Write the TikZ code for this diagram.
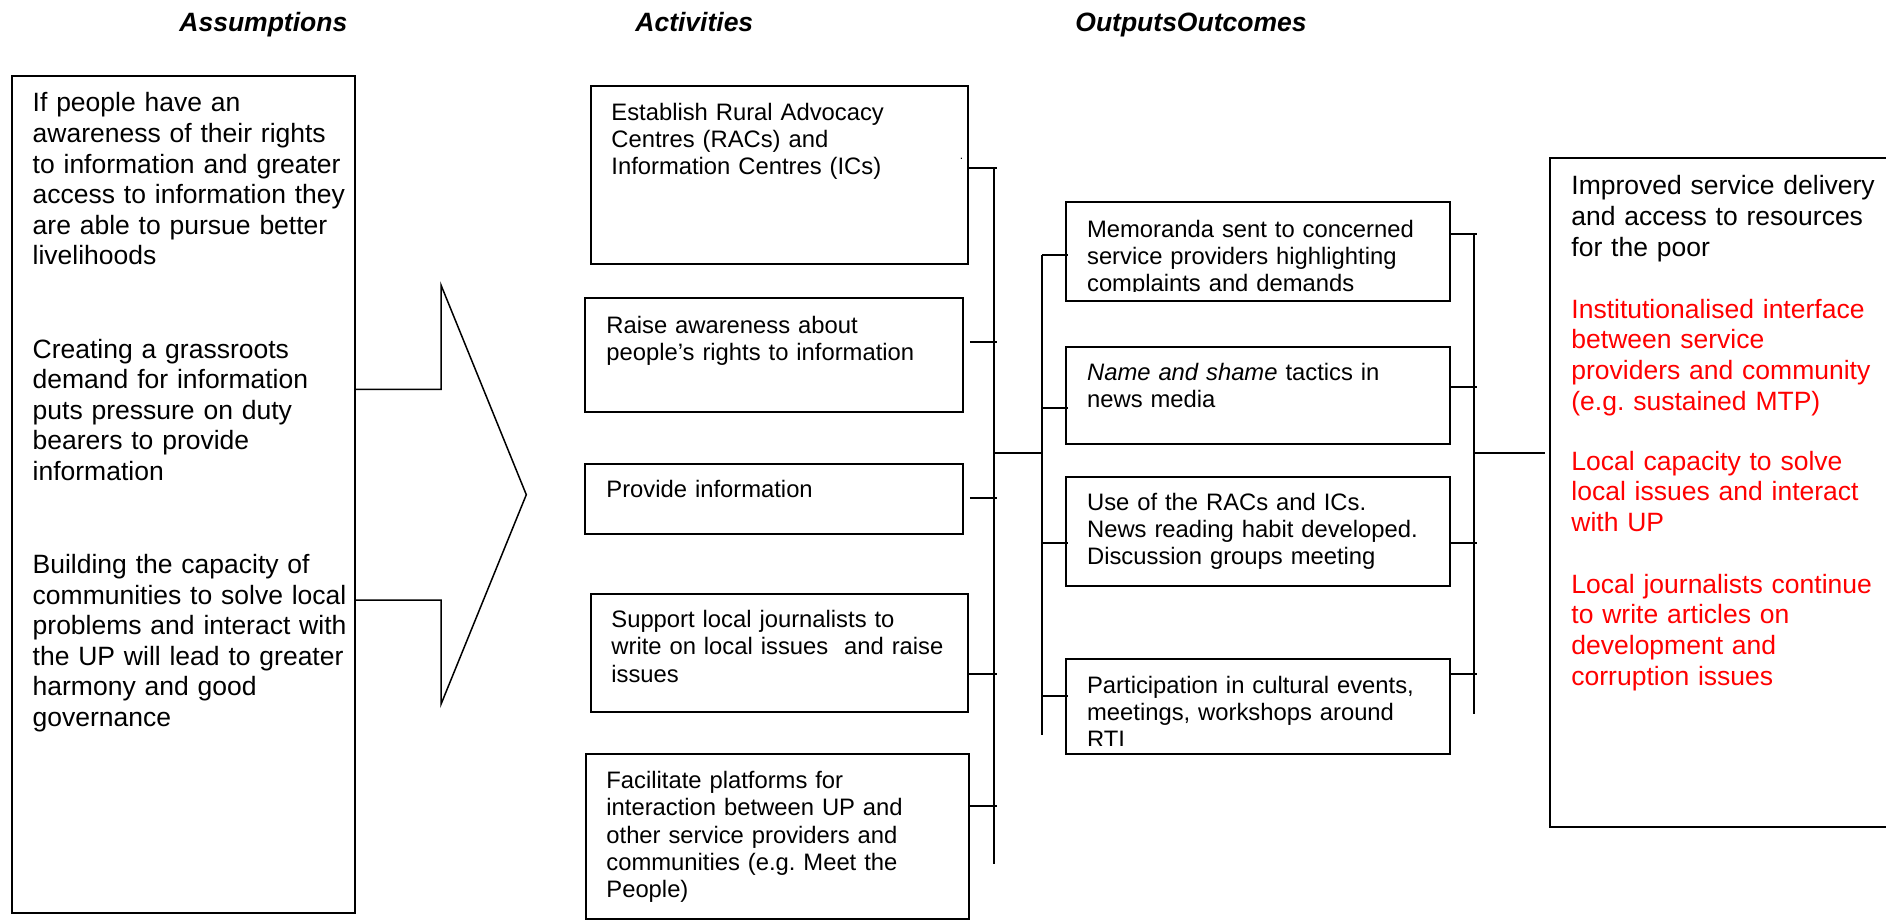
\documentclass[tikz,border=0pt]{standalone}
\usepackage{fontspec}
\setmainfont{Liberation Sans}
\usetikzlibrary{fit}
\definecolor{outred}{RGB}{255,0,0}
\frenchspacing
\tikzset{
  frame/.style={draw=black, line width=1pt, inner sep=0pt},
  link/.style={draw=black, line width=0.9pt},
  chevron/.style={draw=black, line width=0.75pt, line join=miter},
  heading/.style={inner sep=0pt, anchor=base west,
    font=\fontsize{13.25pt}{15.3pt}\selectfont\bfseries\itshape},
  bigtxt/.style={inner sep=0pt, anchor=base west, align=left, text width=168pt,
    font=\fontsize{13.25pt}{15.3pt}\selectfont},
  midtxt/.style={inner sep=0pt, anchor=base west, align=left, text width=185pt,
    font=\fontsize{11.9pt}{13.6pt}\selectfont},
  rtxt/.style={inner sep=0pt, anchor=base west, align=left, text width=155pt,
    font=\fontsize{13.25pt}{15.4pt}\selectfont},
}
\begin{document}
\begin{tikzpicture}[x=0.5pt, y=-0.5pt]
\path[use as bounding box] (0,0) rectangle (1886,920);
\clip (0,0) rectangle (1886,920);

% column headings
\node[heading] (tAsm) at (179,31.7) {Assumptions};
\node[heading] (tAct) at (635,31.7) {Activities};
\node[heading] (tOut) at (1075,31.7) {OutputsOutcomes};

% ---------------- assumptions ----------------
\node[frame, fit={(11.7,76) (355,913.3)}] (asm) {};
\node[bigtxt] (asmA) at (32.3,112) {If people have an\\awareness of their rights\\to information and greater\\access to information they\\are able to pursue better\\livelihoods};
\node[bigtxt] (asmB) at (32.3,358) {Creating a grassroots\\demand for information\\puts pressure on duty\\bearers to provide\\information};
\node[bigtxt] (asmC) at (32.3,573.5) {Building the capacity of\\communities to solve local\\problems and interact with\\the UP will lead to greater\\harmony and good\\governance};

% chevron pointing at the activities
\coordinate (chUp)   at (441,389.3);
\coordinate (chUpT)  at (441,285);
\coordinate (chTip)  at (526.3,494.7);
\coordinate (chLoB)  at (441,704.3);
\coordinate (chLo)   at (441,600);
\draw[chevron] (asm.east |- chUp) -- (chUp) -- (chUpT) -- (chTip)
  -- (chLoB) -- (chLo) -- (asm.east |- chLo);

% ---------------- activities ----------------
\node[frame, fit={(590.7,85.7) (968.3,264)}]   (act1) {};
\node[frame, fit={(585,298.3) (963.3,411.7)}]  (act2) {};
\node[frame, fit={(585,464.3) (963.3,534)}]    (act3) {};
\node[frame, fit={(590.7,594.3) (968.3,711.7)}] (act4) {};
\node[frame, fit={(585.7,754.3) (969.3,918.5)}] (act5) {};

\node[midtxt] (act1t) at (611,120.3) {Establish Rural Advocacy\\Centres (RACs) and\\Information Centres (ICs)};
\node[inner sep=0pt, anchor=base east, font=\fontsize{6pt}{7pt}\selectfont] (act1dot) at (963.5,160) {.};
\node[midtxt] (act2t) at (606,333) {Raise awareness about\\people’s rights to information};
\node[midtxt] (act3t) at (606,497.7) {Provide information};
\node[midtxt] (act4t) at (611,627.7) {Support local journalists to\\write on local issues \ and raise\\issues};
\node[midtxt] (act5t) at (606,788.7) {Facilitate platforms for\\interaction between UP and\\other service providers and\\communities (e.g. Meet the\\People)};

% bracket joining the activities
\coordinate (s1top) at (994,168);
\coordinate (s1bot) at (994,864);
\coordinate (k1) at (997,168);
\coordinate (k2) at (997,342);
\coordinate (k3) at (997,498);
\coordinate (k4) at (997,674);
\coordinate (k5) at (997,806);
\draw[link] (s1top) -- (s1bot);
\draw[link] (act1.east |- k1) -- (k1);
\draw[link] ([xshift=2.8pt]act2.east |- k2) -- (k2);
\draw[link] ([xshift=2.8pt]act3.east |- k3) -- (k3);
\draw[link] (act4.east |- k4) -- (k4);
\draw[link] (act5.east |- k5) -- (k5);

% ---------------- outputs ----------------
\node[frame, fit={(1065.7,202.3) (1450,300.7)}] (out1) {};
\node[frame, fit={(1065.7,346.7) (1450,444)}]   (out2) {};
\node[frame, fit={(1065.7,477) (1450,586)}]     (out3) {};
\node[frame, fit={(1065.7,659) (1450,754.3)}]   (out4) {};

\begin{scope}
  \clip (1066,203) rectangle (1449,291.5);
  \node[midtxt] (out1t) at (1086.7,237) {Memoranda sent to concerned\\service providers highlighting\\complaints and demands};
\end{scope}
\node[midtxt] (out2t) at (1086.7,380.3) {\textit{Name and shame} tactics in\\news media};
\node[midtxt] (out3t) at (1086.7,510.3) {Use of the RACs and ICs.\\News reading habit developed.\\Discussion groups meeting};
\begin{scope}
  \clip (1066,660) rectangle (1449,745);
  \node[midtxt] (out4t) at (1086.7,693) {Participation in cultural events,\\meetings, workshops around\\RTI};
\end{scope}

% junction from the activities bracket to the outputs bracket
\coordinate (j1a) at (994,453);
\coordinate (j1b) at (1042,453);
\draw[link] (j1a) -- (j1b);

% bracket on the input side of the outputs
\coordinate (s2top) at (1042,255);
\coordinate (s2bot) at (1042,735);
\coordinate (m1) at (1042,255);
\coordinate (m2) at (1042,408);
\coordinate (m3) at (1042,543);
\coordinate (m4) at (1042,696);
\draw[link] (s2top) -- (s2bot);
\draw[link] (m1) -- ([xshift=1.8pt]out1.west |- m1);
\draw[link] (m2) -- ([xshift=1.8pt]out2.west |- m2);
\draw[link] (m3) -- ([xshift=1.8pt]out3.west |- m3);
\draw[link] (m4) -- ([xshift=1.8pt]out4.west |- m4);

% bracket on the output side of the outputs
\coordinate (s3top) at (1474,234);
\coordinate (s3bot) at (1474,714);
\coordinate (r1) at (1477.3,234);
\coordinate (r2) at (1477.3,387);
\coordinate (r3) at (1477.3,543);
\coordinate (r4) at (1477.3,674);
\draw[link] (s3top) -- (s3bot);
\draw[link] (out1.east |- r1) -- (r1);
\draw[link] (out2.east |- r2) -- (r2);
\draw[link] (out3.east |- r3) -- (r3);
\draw[link] (out4.east |- r4) -- (r4);

% ---------------- outcomes ----------------
\node[frame, fit={(1550,157.7) (1892,826.7)}] (res) {};
\node[rtxt] (res1) at (1571,195) {Improved service delivery\\and access to resources\\for the poor};
\node[rtxt, text=outred] (res2) at (1571,318) {Institutionalised interface\\between service\\providers and community\\(e.g. sustained MTP)};
\node[rtxt, text=outred] (res3) at (1571,470) {Local capacity to solve\\local issues and interact\\with UP};
\node[rtxt, text=outred] (res4) at (1571,593) {Local journalists continue\\to write articles on\\development and\\corruption issues};

\coordinate (j2a) at (1474,453);
\draw[link] (j2a) -- ([xshift=-2pt]res.west |- j2a);
\end{tikzpicture}
\end{document}
